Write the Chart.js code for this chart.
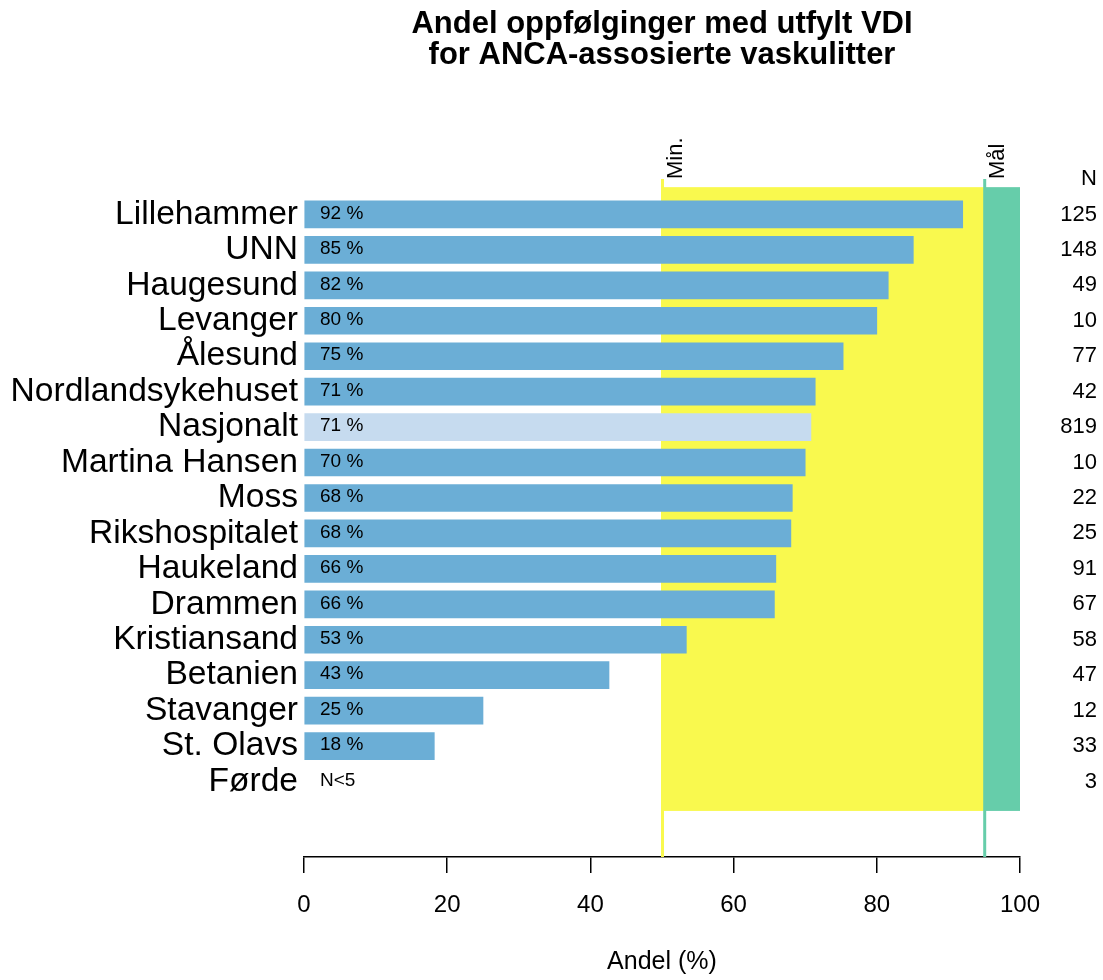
<!DOCTYPE html>
<html><head><meta charset="utf-8">
<script src="https://cdn.jsdelivr.net/npm/chart.js@4"></script>
<style>html,body{margin:0;padding:0;background:#fff}canvas{display:block}</style>
</head><body>
<canvas id="c" width="1103" height="980"></canvas>
<script>
const categories = ['Lillehammer','UNN','Haugesund','Levanger','Ålesund','Nordlandsykehuset','Nasjonalt','Martina Hansen','Moss','Rikshospitalet','Haukeland','Drammen','Kristiansand','Betanien','Stavanger','St. Olavs','Førde'];
const shareValues = [92.0,85.1,81.6,80.0,75.3,71.4,70.8,70.0,68.2,68.0,65.9,65.7,53.4,42.6,25.0,18.2,null];
const nValues = [125,148,49,10,77,42,819,10,22,25,91,67,58,47,12,33,3];
const xTicks = [0,20,40,60,80,100];
const minLevel = 50;
const goalLevel = 95;
const titleLines = ['Andel oppfølginger med utfylt VDI','for ANCA-assosierte vaskulitter'];
const xTitle = 'Andel (%)';
const nationalLabel = 'Nasjonalt';

const FONT = '"Liberation Sans", Arial, Helvetica, sans-serif';
const BAR = '#6BAED6', BAR_NAT = '#C6DBEF', YELLOW = '#F9F94E', GREEN = '#66CDAA';
Chart.defaults.font.family = FONT;
Chart.defaults.color = '#000';

const decor = {
  id: 'decor',
  beforeDatasetsDraw(chart) {
    const {ctx, chartArea: a, scales: {x, y}} = chart;
    const top = y.getPixelForValue(-0.77);
    const bot = y.getPixelForValue(categories.length - 1 + 0.83);
    const x0 = x.getPixelForValue(minLevel), x1 = x.getPixelForValue(goalLevel), x2 = x.getPixelForValue(100);
    ctx.save();
    ctx.fillStyle = YELLOW; ctx.fillRect(x0, top, x1 - x0, bot - top);
    ctx.fillStyle = GREEN; ctx.fillRect(x1, top, x2 - x1, bot - top);
    ctx.lineWidth = 3;
    ctx.strokeStyle = YELLOW;
    ctx.beginPath(); ctx.moveTo(x0 + 0.5, a.top); ctx.lineTo(x0 + 0.5, a.bottom); ctx.stroke();
    ctx.strokeStyle = GREEN;
    ctx.beginPath(); ctx.moveTo(x1 + 0.5, a.top); ctx.lineTo(x1 + 0.5, a.bottom); ctx.stroke();
    ctx.restore();
  },
  afterDraw(chart) {
    const {ctx, chartArea: a, scales: {x, y}} = chart;
    ctx.save();
    ctx.fillStyle = '#000';
    ctx.font = 'bold 31px ' + FONT;
    ctx.textAlign = 'center'; ctx.textBaseline = 'alphabetic';
    const cx = (a.left + a.right) / 2;
    ctx.fillText(titleLines[0], cx, 33);
    ctx.fillText(titleLines[1], cx, 64);
    ctx.font = '22px ' + FONT;
    [[minLevel, 'Min.'], [goalLevel, 'Mål']].forEach(([v, t]) => {
      ctx.save();
      ctx.translate(x.getPixelForValue(v) + 14, a.top);
      ctx.rotate(-Math.PI / 2);
      ctx.textAlign = 'left'; ctx.textBaseline = 'middle';
      ctx.fillText(t, 0, 0);
      ctx.restore();
    });
    ctx.font = '22px ' + FONT;
    ctx.textAlign = 'right'; ctx.textBaseline = 'middle';
    ctx.fillText('N', 1097, 179);
    nValues.forEach((n, i) => ctx.fillText(String(n), 1097, y.getPixelForValue(i)));
    ctx.font = '19px ' + FONT;
    ctx.textAlign = 'left';
    shareValues.forEach((v, i) => {
      const t = v == null ? 'N<5' : Math.round(v) + ' %';
      ctx.fillText(t, x.getPixelForValue(0) + 16, y.getPixelForValue(i) - 1);
    });
    ctx.restore();
  }
};

new Chart(document.getElementById('c'), {
  type: 'bar',
  data: {
    datasets: [{
      data: shareValues.map((v, i) => ({x: v, y: i})),
      backgroundColor: categories.map(c => c === nationalLabel ? BAR_NAT : BAR),
      borderWidth: 0,
      barThickness: 27
    }]
  },
  options: {
    indexAxis: 'y',
    responsive: false,
    devicePixelRatio: 1,
    animation: false,
    layout: {padding: {top: 179, right: 83, left: 0, bottom: 0}},
    plugins: {legend: {display: false}, tooltip: {enabled: false}, title: {display: false}},
    scales: {
      x: {
        type: 'linear', position: 'bottom', min: 0, max: 100,
        afterBuildTicks: s => { s.ticks = xTicks.map(v => ({value: v})); },
        afterFit: s => { s.height = 123; },
        grid: {drawOnChartArea: false, drawTicks: true, tickLength: 16, color: '#000', lineWidth: 1.5},
        border: {display: true, color: '#000', width: 1.5},
        ticks: {font: {size: 24}, color: '#000', padding: 18, maxRotation: 0},
        title: {display: true, text: xTitle, font: {size: 25}, color: '#000', padding: {top: 0, bottom: 3}}
      },
      y: {
        type: 'linear', position: 'left', reverse: true, offset: false, bounds: 'data', grace: 0,
        min: -1.0, max: 18.13,
        afterBuildTicks: s => { s.ticks = categories.map((c, i) => ({value: i})); },
        afterFit: s => { s.width = 304; },
        grid: {display: false, drawTicks: false, offset: false},
        border: {display: false},
        ticks: {
          autoSkip: false, padding: 6, color: '#000',
          font: {size: 33.6, lineHeight: 1.0},
          callback: v => categories[v] ?? ''
        }
      }
    }
  },
  plugins: [decor]
});
</script>
</body></html>
